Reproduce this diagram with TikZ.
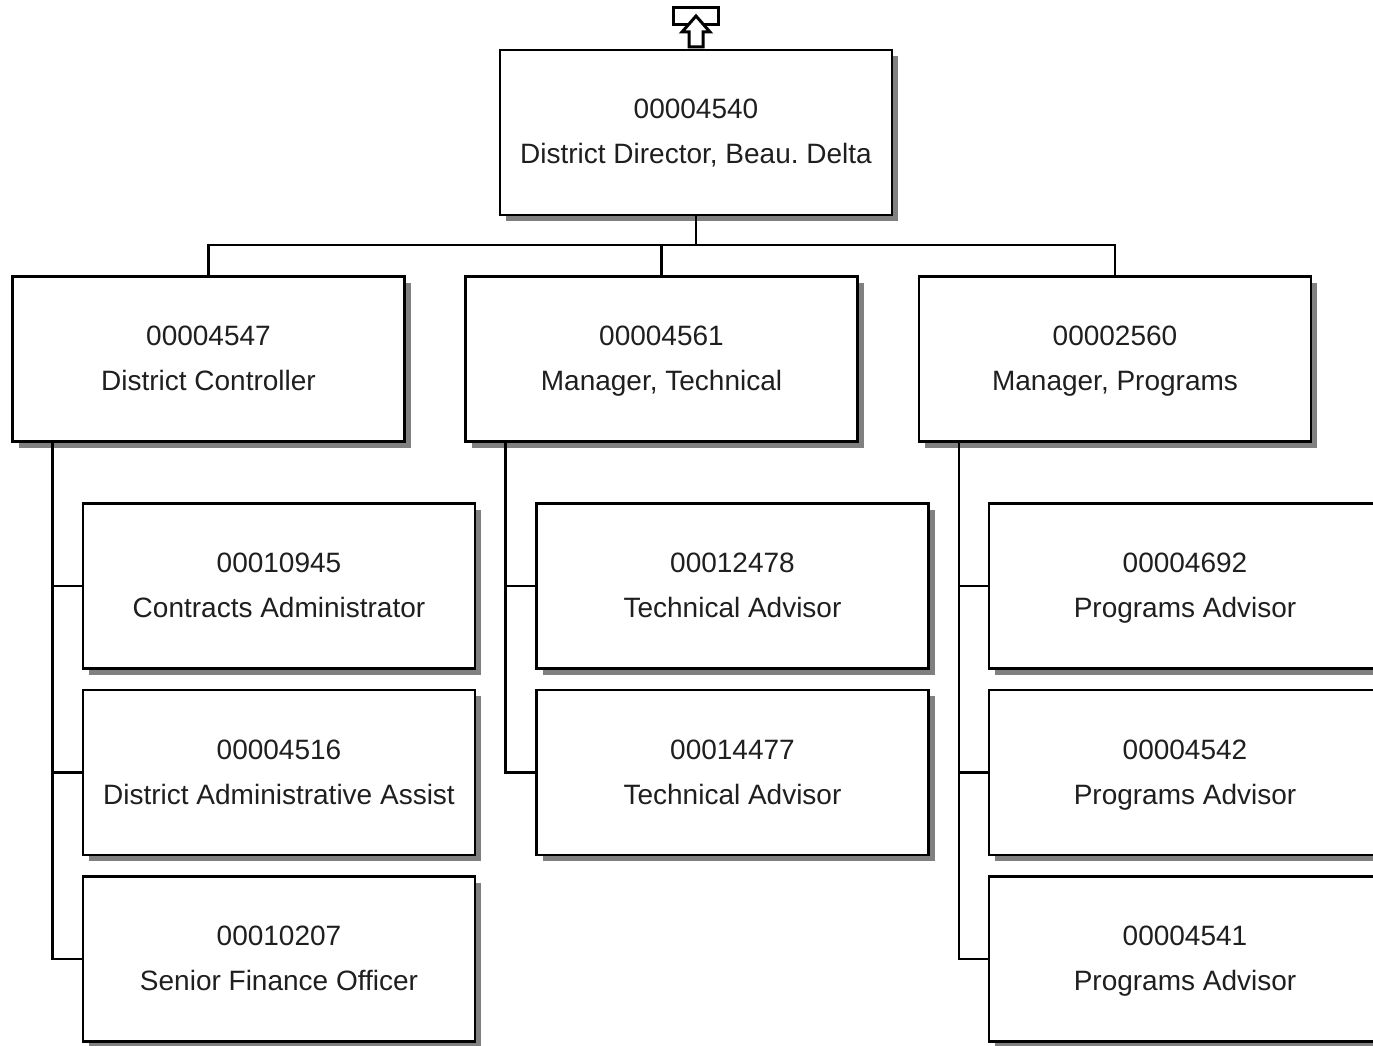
\documentclass[tikz,border=0pt]{standalone}
\usepackage{fontspec}
\setmainfont{Liberation Sans}
\usetikzlibrary{shadows}
\newcommand{\twoline}[2]{\strut#1\\\strut#2}
\begin{document}
\frenchspacing
\begin{tikzpicture}[x=1pt,y=-1pt,
  posbox/.style={draw=black, line width=2.5pt, fill=white, minimum width=392pt, minimum height=165pt,
    inner sep=0pt, outer sep=0pt, align=center, font=\fontsize{28}{45}\selectfont\color[gray]{0.12},
    drop shadow={shadow xshift=6pt, shadow yshift=-6pt, fill=gray, opacity=1}},
  conn/.style={draw=black, line width=2.5pt}]
\useasboundingbox (0,0) rectangle (1373,1046);
% top icon
\draw[line width=3pt, fill=white] (673,8) rectangle (718,25);
\draw[line width=3pt, fill=white, line join=miter] (696,16) -- (710,32) -- (703,32) -- (703,47) -- (689,47) -- (689,32) -- (682,32) -- cycle;
% boxes
\node[posbox] (top) at (696,132.5) {\twoline{00004540}{District Director, Beau. Delta}};
\node[posbox] (ctl) at (208.5,359) {\twoline{00004547}{District Controller}};
\node[posbox] (tec) at (661.5,359) {\twoline{00004561}{Manager, Technical}};
\node[posbox] (prg) at (1115,359) {\twoline{00002560}{Manager, Programs}};
\node[posbox] (c1) at (279,586) {\twoline{00010945}{Contracts Administrator}};
\node[posbox] (c2) at (279,772.5) {\twoline{00004516}{District Administrative Assist}};
\node[posbox] (c3) at (279,959) {\twoline{00010207}{Senior Finance Officer}};
\node[posbox] (t1) at (732.5,586) {\twoline{00012478}{Technical Advisor}};
\node[posbox] (t2) at (732.5,772.5) {\twoline{00014477}{Technical Advisor}};
\node[posbox] (p1) at (1185,586) {\twoline{00004692}{Programs Advisor}};
\node[posbox] (p2) at (1185,772.5) {\twoline{00004542}{Programs Advisor}};
\node[posbox] (p3) at (1185,959) {\twoline{00004541}{Programs Advisor}};
% connectors
\coordinate (bus) at (696,245);
\draw[conn] (top.south) -- (bus);
\draw[conn] (ctl.north) |- (bus) -| (prg.north);
\draw[conn] (tec.north) -- (tec.north |- bus);
\draw[conn] ([xshift=40pt]ctl.south west) |- (c3.west);
\draw[conn] ([xshift=40pt]ctl.south west) |- (c1.west);
\draw[conn] ([xshift=40pt]ctl.south west) |- (c2.west);
\draw[conn] ([xshift=40pt]tec.south west) |- (t2.west);
\draw[conn] ([xshift=40pt]tec.south west) |- (t1.west);
\draw[conn] ([xshift=40pt]prg.south west) |- (p3.west);
\draw[conn] ([xshift=40pt]prg.south west) |- (p1.west);
\draw[conn] ([xshift=40pt]prg.south west) |- (p2.west);
\end{tikzpicture}
\end{document}
